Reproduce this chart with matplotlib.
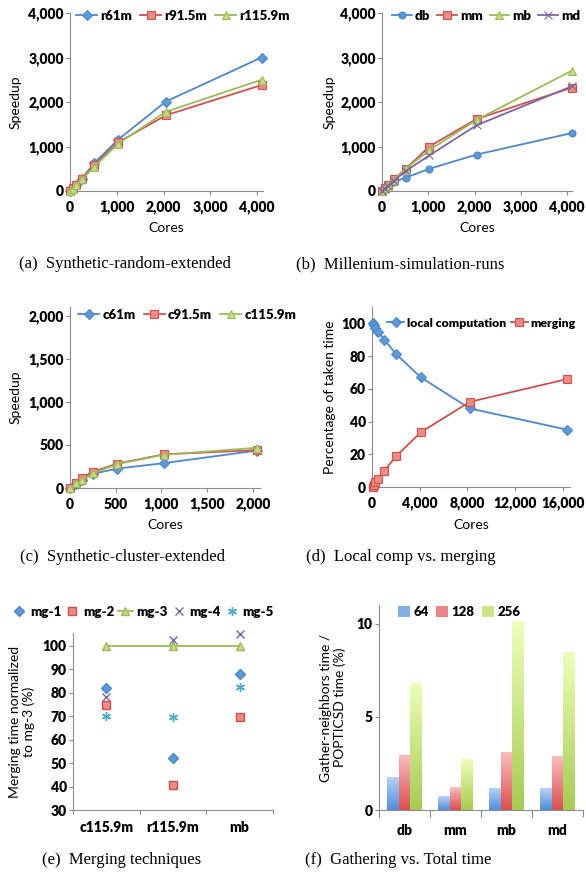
import matplotlib
matplotlib.use('Agg')
import numpy as np
import matplotlib.pyplot as plt
from matplotlib.ticker import FuncFormatter
from matplotlib.colors import LinearSegmentedColormap

plt.rcParams['font.family'] = ['Lato', 'DejaVu Sans']
plt.rcParams['font.weight'] = 'heavy'

W, H = 586, 875

# (a) Synthetic-random-extended
cores_a = [1, 64, 128, 256, 512, 1024, 2048, 4096]
r61m = [1, 64, 130, 280, 620, 1150, 2010, 3000]
r91m = [1, 60, 140, 280, 580, 1090, 1700, 2380]
r115m = [1, 55, 130, 260, 540, 1060, 1780, 2500]

# (b) Millenium-simulation-runs
cores_b = [1, 64, 128, 256, 512, 1024, 2048, 4096]
db = [1, 60, 120, 200, 300, 500, 820, 1300]
mm = [1, 70, 140, 260, 500, 1000, 1620, 2320]
mb = [1, 60, 130, 250, 500, 920, 1600, 2700]
md = [1, 55, 120, 230, 450, 800, 1480, 2350]

# (c) Synthetic-cluster-extended
cores_c = [1, 64, 128, 256, 512, 1024, 2048]
c61m = [1, 50, 95, 165, 225, 288, 435]
c91m = [1, 60, 115, 190, 282, 390, 440]
c115m = [1, 54, 92, 172, 277, 385, 468]

# (d) local computation vs merging
cores_d = [64, 128, 256, 512, 1024, 2048, 4096, 8192, 16384]
local_comp = [100, 99, 97, 95, 90, 81, 67, 48, 35]
merging = [0, 1, 3, 5, 10, 19, 33.5, 52, 66]

# (e) merging techniques
sets_e = ['c115.9m', 'r115.9m', 'mb']
mg1 = [82, 52, 88]
mg2 = [75, 40.5, 69.5]
mg3 = [100, 100, 100]
mg4 = [78, 102.5, 105]
mg5 = [70, 69.5, 82.5]

# (f) gathering vs total time
sets_f = ['db', 'mm', 'mb', 'md']
g64 = [1.75, 0.75, 1.17, 1.17]
g128 = [2.95, 1.23, 3.1, 2.88]
g256 = [6.83, 2.72, 10.14, 8.49]

BLUE, BLUE_F = '#4f86cc', '#5b9bd5'
RED, RED_F = '#d0504d', '#f08a85'
GREEN, GREEN_F = '#9bbb59', '#c2dc86'
PURPLE = '#8064a2'
CYAN = '#4bacc6'
GRAY = '#8c8c8c'

fig = plt.figure(figsize=(W / 100, H / 100), dpi=100)

comma = FuncFormatter(lambda v, p: '{:,.0f}'.format(v))


def make_ax(l, t, r, b):
    ax = fig.add_axes([l / W, 1 - b / H, (r - l) / W, (b - t) / H])
    ax.box = (l, t, r, b)
    for s in ['top', 'right']:
        ax.spines[s].set_visible(False)
    for s in ['left', 'bottom']:
        ax.spines[s].set_color(GRAY)
        ax.spines[s].set_linewidth(0.8)
    ax.tick_params(direction='out', length=3, width=0.8, color=GRAY,
                   labelsize=10)
    ax.tick_params(axis='x', pad=4)
    ax.tick_params(axis='y', pad=1.5)
    return ax


def labels(ax, xl, yl, ylx, xly=None):
    l, t, r, b = ax.box
    if xl:
        ax.set_xlabel(xl, fontsize=10)
        ax.xaxis.set_label_coords(0.5, -(xly - b) / (b - t))
        ax.xaxis.label.set_va('center')
    ax.set_ylabel(yl, fontsize=10, linespacing=1.1)
    ax.yaxis.set_label_coords((ylx - l) / (r - l), 0.5)
    ax.yaxis.label.set_va('center')


def leg(ax, x, y, ncol, **kw):
    opts = dict(loc='center left', bbox_to_anchor=(x / W, 1 - y / H),
                bbox_transform=fig.transFigure, ncol=ncol, frameon=False,
                fontsize=9.5, handlelength=1.6, handletextpad=0.25,
                columnspacing=0.6, borderpad=0, borderaxespad=0)
    opts.update(kw)
    ax.legend(**opts)


def line(ax, x, y, c, fc, m, lab, ms=5, ec=None):
    ax.plot(x, y, color=c, lw=1.3, marker=m, ms=ms, mfc=fc, mec=ec or c,
            mew=0.8, label=lab, clip_on=False, zorder=3)


def caption(cx, cy, s):
    fig.text(cx / W, 1 - cy / H, s, family='Liberation Serif', weight='normal',
             fontsize=12, ha='center', va='center')


# (a)
ax = make_ax(70, 13, 263, 191)
line(ax, cores_a, r61m, BLUE, BLUE_F, 'D', 'r61m')
line(ax, cores_a, r91m, RED, RED_F, 's', 'r91.5m', ms=5.5)
line(ax, cores_a, r115m, GREEN, GREEN_F, '^', 'r115.9m', ms=5.5)
ax.set_xlim(0, 4128)
ax.set_ylim(0, 4000)
ax.set_xticks(range(0, 4001, 1000))
ax.set_yticks(range(0, 4001, 1000))
ax.xaxis.set_major_formatter(comma)
ax.yaxis.set_major_formatter(comma)
labels(ax, 'Cores', 'Speedup', 16, 228)
leg(ax, 76, 16, 3)
caption(125, 264, '(a)  Synthetic-random-extended')

# (b)
ax = make_ax(382, 13, 572, 191)
line(ax, cores_b, db, BLUE, BLUE_F, 'o', 'db')
line(ax, cores_b, mm, RED, RED_F, 's', 'mm', ms=6)
line(ax, cores_b, mb, GREEN, GREEN_F, '^', 'mb', ms=5.5)
line(ax, cores_b, md, PURPLE, PURPLE, 'x', 'md', ms=5.5)
ax.set_xlim(0, 4106)
ax.set_ylim(0, 4000)
ax.set_xticks(range(0, 4001, 1000))
ax.set_yticks(range(0, 4001, 1000))
ax.xaxis.set_major_formatter(comma)
ax.yaxis.set_major_formatter(comma)
labels(ax, 'Cores', 'Speedup', 330, 228)
leg(ax, 392, 16, 4, columnspacing=0.5, handlelength=1.5)
caption(400, 264, '(b)  Millenium-simulation-runs')

# (c)
ax = make_ax(70, 307, 260, 488)
line(ax, cores_c, c61m, BLUE, BLUE_F, 'D', 'c61m')
line(ax, cores_c, c91m, RED, RED_F, 's', 'c91.5m', ms=6)
line(ax, cores_c, c115m, GREEN, GREEN_F, '^', 'c115.9m', ms=5.5)
ax.set_xlim(0, 2077)
ax.set_ylim(0, 2100)
ax.set_xticks(range(0, 2001, 500))
ax.set_yticks(range(0, 2001, 500))
ax.xaxis.set_major_formatter(comma)
ax.yaxis.set_major_formatter(comma)
labels(ax, 'Cores', 'Speedup', 16, 525)
leg(ax, 78, 315, 3)
caption(123, 557, '(c)  Synthetic-cluster-extended')

# (d)
ax = make_ax(372, 307, 570, 487)
line(ax, cores_d, local_comp, BLUE, BLUE_F, 'D', 'local computation')
line(ax, cores_d, merging, RED, RED_F, 's', 'merging', ms=6)
ax.set_xlim(0, 16600)
ax.set_ylim(0, 110)
ax.set_xticks(range(0, 16001, 4000))
ax.set_yticks(range(0, 101, 20))
ax.xaxis.set_major_formatter(comma)
labels(ax, 'Cores', 'Percentage of taken time', 330, 525)
leg(ax, 387, 323, 2, fontsize=8.8, columnspacing=0.35, handlelength=1.4)
caption(401, 557, '(d)  Local comp vs. merging')

# (e)
ax = make_ax(73, 633, 273, 810)
xe = np.arange(len(sets_e))
ax.plot(xe, mg1, ls='none', marker='D', ms=5, mfc=BLUE_F, mec=BLUE,
        label='mg-1', zorder=3)
ax.plot(xe, mg2, ls='none', marker='s', ms=6, mfc=RED_F, mec=RED,
        label='mg-2', zorder=3)
ax.plot(xe, mg3, color=GREEN, lw=1.3, marker='^', ms=5.5, mfc=GREEN_F,
        mec=GREEN, label='mg-3', zorder=3)
ax.plot(xe, mg4, ls='none', marker='x', ms=5.5, mec=PURPLE, mew=1,
        label='mg-4', zorder=3, clip_on=False)
ax.plot(xe, mg5, ls='none', marker=(6, 2, 0), ms=6.5, mec=CYAN, mew=1,
        label='mg-5', zorder=3)
ax.set_xlim(-0.5, len(sets_e) - 0.5)
ax.set_ylim(30, 105.5)
ax.set_yticks(range(30, 101, 10))
ax.set_xticks(xe, sets_e)
ax.set_xticks(np.arange(-0.5, len(sets_e)), minor=True)
ax.tick_params(axis='x', which='major', length=0, pad=8)
ax.tick_params(axis='x', which='minor', direction='out', length=3,
               width=0.8, color=GRAY)
labels(ax, None, 'Merging time normalized\nto mg-3 (%)', 22)
leg(ax, 12, 612, 5, handlelength=1.1, columnspacing=0.3)
caption(122, 860, '(e)  Merging techniques')

# (f)
ax = make_ax(379, 605, 583, 810)
xf = np.arange(len(sets_f))
bw = 0.23
grads = [('#b5d3f6', '#4f8edb', '64', g64, -bw),
         ('#fbbcbc', '#dd4f4f', '128', g128, 0),
         ('#edffb8', '#a6cc52', '256', g256, bw)]
grad = np.linspace(0, 1, 64).reshape(-1, 1)
for top, bot, lab, vals, off in grads:
    cmap = LinearSegmentedColormap.from_list(lab, [bot, top])
    bars = ax.bar(xf + off, vals, bw, color=cmap(0.5), label=lab, zorder=2)
    for p in bars:
        im = ax.imshow(grad, extent=[p.get_x(), p.get_x() + p.get_width(),
                                     0, p.get_height()],
                       origin='lower', aspect='auto', cmap=cmap, zorder=2.5)
        im.set_clip_path(p)
ax.set_xlim(-0.5, len(sets_f) - 0.5)
ax.set_ylim(0, 11)
ax.set_yticks([0, 5, 10])
ax.set_xticks(xf, sets_f)
ax.set_xticks(np.arange(-0.5, len(sets_f)), minor=True)
ax.tick_params(axis='x', which='major', length=0, pad=10)
ax.tick_params(axis='x', which='minor', direction='out', length=5,
               width=0.8, color=GRAY)
labels(ax, None, 'Gather-neighbors time /\nPOPTICSD time (%)', 333)
leg(ax, 398, 612, 3, handlelength=0.9, handleheight=0.9)
caption(398, 860, '(f)  Gathering vs. Total time')

fig.savefig('out.png', dpi=100)
